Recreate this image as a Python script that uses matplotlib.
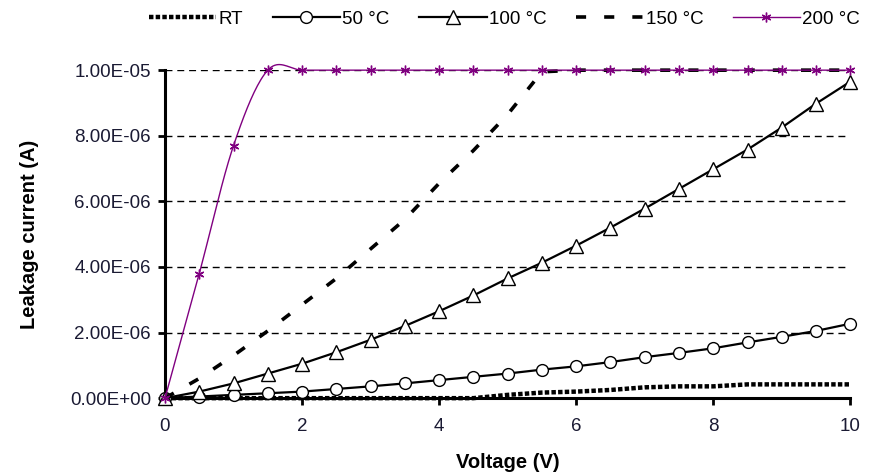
import numpy as np
import matplotlib
matplotlib.use("Agg")
import matplotlib.pyplot as plt
from matplotlib.ticker import FuncFormatter, MultipleLocator

plt.rcParams['font.family'] = ['Liberation Sans', 'DejaVu Sans']

voltage = [0, 0.5, 1, 1.5, 2, 2.5, 3, 3.5, 4, 4.5, 5, 5.5, 6, 6.5, 7, 7.5, 8, 8.5, 9, 9.5, 10]

rt = [0, 0, 0, 0, 0, 0, 0, 0, 0, 0.0, 0.10, 0.17, 0.20, 0.25, 0.33, 0.36, 0.36, 0.42, 0.42, 0.42, 0.42]
c50 = [0, 0.05, 0.10, 0.15, 0.20, 0.28, 0.36, 0.45, 0.55, 0.65, 0.75, 0.87, 0.97, 1.10, 1.25, 1.38, 1.52, 1.70, 1.87, 2.05, 2.27]
c100 = [0, 0.20, 0.45, 0.75, 1.05, 1.40, 1.78, 2.20, 2.65, 3.13, 3.65, 4.13, 4.65, 5.20, 5.78, 6.38, 6.98, 7.58, 8.25, 8.98, 9.65]
c150 = [0, 0.60, 1.30, 2.05, 2.85, 3.65, 4.55, 5.45, 6.55, 7.55, 8.65, 9.95, 10, 10, 10, 10, 10, 10, 10, 10, 10]
c200 = [0, 3.8, 7.7, 10, 10, 10, 10, 10, 10, 10, 10, 10, 10, 10, 10, 10, 10, 10, 10, 10, 10]

scale = 1e-6
labels = ['RT', '50 °C', '100 °C', '150 °C', '200 °C']
yticks = [0, 2e-6, 4e-6, 6e-6, 8e-6, 1e-5]


def smooth(x, y, n=20):
    # Bezier smoothing (like a spreadsheet "smoothed line"), used for drawing only
    x = np.asarray(x, float); y = np.asarray(y, float)
    px = np.concatenate([[x[0]], x, [x[-1]]])
    py = np.concatenate([[y[0]], y, [y[-1]]])
    xs, ys = [], []
    t = np.linspace(0, 1, n, endpoint=False)
    for i in range(1, len(px) - 2):
        p0 = np.array([px[i], py[i]])
        p3 = np.array([px[i + 1], py[i + 1]])
        p1 = p0 + (np.array([px[i + 1], py[i + 1]]) - np.array([px[i - 1], py[i - 1]])) / 6
        p2 = p3 - (np.array([px[i + 2], py[i + 2]]) - np.array([px[i], py[i]])) / 6
        b = ((1 - t) ** 3)[:, None] * p0 + (3 * (1 - t) ** 2 * t)[:, None] * p1 + \
            (3 * (1 - t) * t ** 2)[:, None] * p2 + (t ** 3)[:, None] * p3
        xs.extend(b[:, 0]); ys.extend(b[:, 1])
    xs.append(x[-1]); ys.append(y[-1])
    return np.array(xs), np.array(ys)


fig = plt.figure(figsize=(8.73, 4.74), dpi=100)
ax = fig.add_axes([0.189, 0.160, 0.785, 0.692])

v = np.array(voltage)
for yt in yticks[1:]:
    ax.axhline(yt, color='black', lw=1.0, ls=(0, (5, 3.5)), zorder=1)

l_rt, = ax.plot(v, np.array(rt) * scale, color='black', lw=3.2, ls=(0, (1.0, 0.5)),
                solid_capstyle='butt', dash_capstyle='butt', zorder=2, clip_on=False)
l50, = ax.plot(v, np.array(c50) * scale, color='black', lw=1.6, marker='o', ms=8.5,
               mfc='white', mec='black', mew=1.0, zorder=3, clip_on=False)
l100, = ax.plot(v, np.array(c100) * scale, color='black', lw=1.6, marker='^', ms=10,
                mfc='white', mec='black', mew=1.0, zorder=3, clip_on=False)
l150, = ax.plot(v, np.array(c150) * scale, color='black', lw=2.6, ls=(0, (2.8, 5.0)),
                dash_capstyle='butt', zorder=4, clip_on=False)
sx, sy = smooth(v, np.array(c200) * scale)
ax.plot(sx, sy, color='#800080', lw=1.0, zorder=5, clip_on=False)
ax.plot(v, np.array(c200) * scale, ls='none', marker=(6, 2, 0), ms=7, mec='#800080',
        mew=1.0, zorder=5, clip_on=False)
l200, = ax.plot([], [], color='#800080', lw=1.0, marker=(6, 2, 0), ms=7, mec='#800080', mew=1.0)

ax.set_xlim(0, 10)
ax.set_ylim(0, 1e-5)
ax.xaxis.set_major_locator(MultipleLocator(2))
ax.set_yticks(yticks)
ax.yaxis.set_major_formatter(FuncFormatter(lambda val, pos: f"{val:.2E}"))
for s in ['top', 'right']:
    ax.spines[s].set_visible(False)
for s in ['left', 'bottom']:
    ax.spines[s].set_linewidth(2.2)
ax.tick_params(axis='both', direction='out', length=5, width=2, labelsize=13.5,
               labelcolor='#1a1a33')
ax.tick_params(axis='x', pad=9)
ax.tick_params(axis='y', pad=5)
ax.set_xlabel('Voltage (V)', fontsize=14.5, fontweight='bold', labelpad=13)
ax.set_ylabel('Leakage current (A)', fontsize=14.5, fontweight='bold', labelpad=22)

fig.legend([l_rt, l50, l100, l150, l200], labels, loc='center', bbox_to_anchor=(0.578, 0.960),
           ncol=5, frameon=False, fontsize=13.5, handlelength=3.6, handletextpad=0.12,
           columnspacing=1.57)

fig.savefig('out.png', dpi=100)
